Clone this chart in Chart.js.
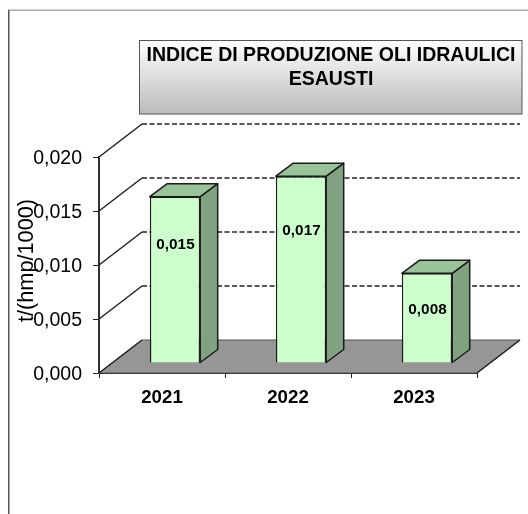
<!DOCTYPE html>
<html lang="it">
<head>
<meta charset="UTF-8">
<title>Indice di produzione oli idraulici esausti</title>
<script src="https://cdn.jsdelivr.net/npm/chart.js"></script>
<style>
  html, body { margin: 0; padding: 0; background: #fff; }
  canvas { display: block; }
</style>
</head>
<body>
<canvas id="myChart" width="528" height="514"></canvas>
<script>
const years = ['2021', '2022', '2023'];
const values = [0.0154, 0.0173, 0.0083];
const valueLabels = ['0,015', '0,017', '0,008'];
const titleLines = ['INDICE DI PRODUZIONE OLI IDRAULICI', 'ESAUSTI'];
const yTitle = 't/(hmp/1000)';

// 3d look: depth of the floor, depth of a bar and where it sits on the floor
const FONT = '"Liberation Sans", Arial, sans-serif';
const floorDepth = { x: 43, y: -33 };
const barDepth = { x: 17.5, y: -13 };
const barShift = { x: 13, y: -10 };
// how far up the bar front each value label sits
const labelRise = [0.711, 0.708, 0.595];

const scene = {
  id: 'scene',
  beforeDraw(chart) {
    const c = chart.ctx;
    c.save();
    c.fillStyle = '#fff';
    c.fillRect(0, 0, 528, 514);
    // outer frame, only top and left show
    c.fillStyle = '#aaa';
    c.fillRect(8, 9.5, 520, 1.5);
    c.fillStyle = '#555';
    c.fillRect(8, 10, 1.5, 504);
    c.restore();
  },
  beforeDatasetsDraw(chart) {
    const c = chart.ctx;
    const a = chart.chartArea;
    const y = chart.scales.y;
    c.save();
    // gridlines go up the side wall then dashed along the back
    c.lineWidth = 1.5;
    c.strokeStyle = '#222';
    y.ticks.forEach(t => {
      if (t.value === 0) return;
      const py = y.getPixelForValue(t.value);
      c.setLineDash([]);
      c.beginPath();
      c.moveTo(a.left, py);
      c.lineTo(a.left + floorDepth.x, py + floorDepth.y);
      c.stroke();
      c.setLineDash([5, 2.5]);
      c.beginPath();
      c.moveTo(a.left + floorDepth.x, py + floorDepth.y);
      c.lineTo(a.right + floorDepth.x, py + floorDepth.y);
      c.stroke();
    });
    c.setLineDash([]);
    // floor
    c.fillStyle = '#969696';
    c.strokeStyle = '#555';
    c.lineWidth = 1;
    c.beginPath();
    c.moveTo(a.left, a.bottom);
    c.lineTo(a.left + floorDepth.x, a.bottom + floorDepth.y);
    c.lineTo(a.right + floorDepth.x, a.bottom + floorDepth.y);
    c.lineTo(a.right, a.bottom);
    c.closePath();
    c.fill();
    c.stroke();
    c.strokeStyle = '#222';
    c.lineWidth = 1.5;
    c.beginPath();
    c.moveTo(a.left, a.bottom);
    c.lineTo(a.left + floorDepth.x, a.bottom + floorDepth.y);
    c.moveTo(a.right, a.bottom);
    c.lineTo(a.right + floorDepth.x, a.bottom + floorDepth.y);
    c.stroke();
    c.restore();
  },
  beforeDatasetDraw(chart, args) {
    const c = chart.ctx;
    c.save();
    c.translate(barShift.x, barShift.y);
    c.lineWidth = 1.5;
    c.strokeStyle = '#1c1c1c';
    c.lineJoin = 'round';
    chart.getDatasetMeta(args.index).data.forEach(b => {
      const r = b.x + b.width / 2;
      const l = b.x - b.width / 2;
      // side face
      c.fillStyle = '#80a280';
      c.beginPath();
      c.moveTo(r, b.y);
      c.lineTo(r + barDepth.x, b.y + barDepth.y);
      c.lineTo(r + barDepth.x, b.base + barDepth.y);
      c.lineTo(r, b.base);
      c.closePath();
      c.fill();
      c.stroke();
      // top face
      c.fillStyle = '#99c399';
      c.beginPath();
      c.moveTo(l, b.y);
      c.lineTo(l + barDepth.x, b.y + barDepth.y);
      c.lineTo(r + barDepth.x, b.y + barDepth.y);
      c.lineTo(r, b.y);
      c.closePath();
      c.fill();
      c.stroke();
    });
  },
  afterDatasetDraw(chart) {
    chart.ctx.restore();
  },
  afterDatasetsDraw(chart) {
    const c = chart.ctx;
    c.save();
    c.fillStyle = '#000';
    c.font = 'bold 15.3px ' + FONT;
    c.textAlign = 'center';
    c.textBaseline = 'middle';
    chart.getDatasetMeta(0).data.forEach((b, i) => {
      const h = b.base - b.y;
      c.fillText(valueLabels[i], b.x + barShift.x + 0.5, b.base + barShift.y - h * labelRise[i]);
    });
    // title box
    const g = c.createLinearGradient(0, 40, 0, 114);
    g.addColorStop(0, '#ffffff');
    g.addColorStop(1, '#bbbbbb');
    c.fillStyle = g;
    c.strokeStyle = '#555';
    c.lineWidth = 1;
    c.fillRect(139.5, 40.5, 382.5, 73.5);
    c.strokeRect(139.5, 40.5, 382.5, 73.5);
    c.fillStyle = '#000';
    c.font = 'bold 19.55px ' + FONT;
    c.fillText(titleLines[0], 331, 55.5);
    c.fillText(titleLines[1], 331, 79.5);
    // axis title sits over the tick labels, a bit above the axis middle
    c.font = '21.7px ' + FONT;
    c.translate(27, 260.5);
    c.rotate(-Math.PI / 2);
    c.fillText(yTitle, 0, 0);
    c.restore();
  }
};

new Chart(document.getElementById('myChart'), {
  type: 'bar',
  data: {
    labels: years,
    datasets: [{
      data: values,
      backgroundColor: '#ccffcc',
      borderColor: '#1c1c1c',
      borderWidth: 1.5,
      categoryPercentage: 1,
      barPercentage: 0.4
    }]
  },
  options: {
    responsive: false,
    animation: false,
    devicePixelRatio: 1,
    layout: { padding: { left: 0, right: 51, top: 157, bottom: 101 } },
    plugins: {
      legend: { display: false },
      title: { display: false },
      tooltip: { enabled: false }
    },
    scales: {
      x: {
        afterFit(s) { s.height = 40; },
        border: { display: true, color: '#222', width: 2 },
        grid: { drawOnChartArea: false, drawTicks: true, tickLength: 5, color: '#222' },
        ticks: { color: '#000', padding: 9, maxRotation: 0, font: { family: FONT, size: 18.67, weight: 'bold' } }
      },
      y: {
        min: 0,
        max: 0.02,
        afterFit(s) { s.width = 99; },
        border: { display: true, color: '#333', width: 2 },
        grid: { drawOnChartArea: false, drawTicks: true, tickLength: 6, color: '#222' },
        ticks: {
          stepSize: 0.005,
          color: '#000',
          padding: 11,
          labelOffset: 2,
          font: { family: FONT, size: 19.5 },
          callback: v => v.toFixed(3).replace('.', ',')
        }
      }
    }
  },
  plugins: [scene]
});
</script>
</body>
</html>
